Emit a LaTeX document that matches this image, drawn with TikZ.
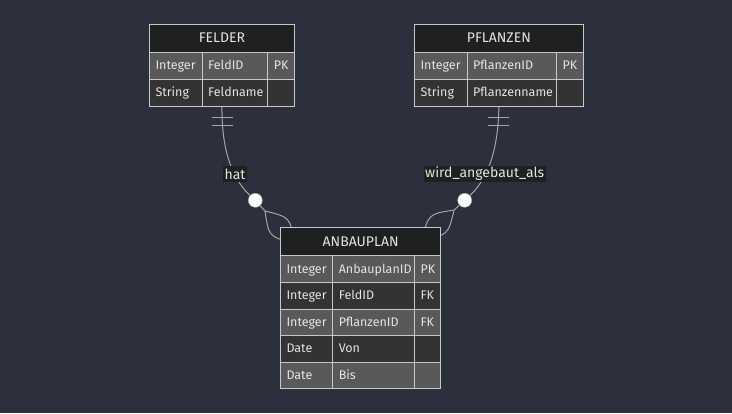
\documentclass[tikz,border=0pt]{standalone}
\usepackage{fontspec}
\setmainfont{Fira Sans}
\usepackage{tikz}
\usetikzlibrary{positioning, fit, backgrounds}

\definecolor{bgblue}{RGB}{43,48,60}
\definecolor{headfill}{RGB}{31,32,32}
\definecolor{rowlight}{RGB}{89,89,89}
\definecolor{rowdark}{RGB}{51,51,51}
\definecolor{cellline}{RGB}{200,200,200}
\definecolor{celltext}{RGB}{228,228,228}
\definecolor{linkgray}{RGB}{165,165,165}

\begin{document}
\begin{tikzpicture}[x=1pt,y=-1pt,
        head/.style={draw=cellline,line width=1pt,fill=headfill,text=celltext,anchor=north west,inner sep=0pt,minimum height=27.7pt,text height=12pt,text depth=3pt,font=\fontsize{14}{16}\selectfont},
        cell/.style={draw=cellline,line width=1pt,text=celltext,anchor=north west,inner xsep=6pt,inner ysep=0pt,minimum height=27pt,text height=11pt,text depth=3pt,align=left,font=\fontsize{12.5}{14}\selectfont},
        oddrow/.style={cell,fill=rowlight},
        evenrow/.style={cell,fill=rowdark},
        link/.style={draw=linkgray,line width=1pt},
        dot/.style={circle,draw=linkgray,fill=white,inner sep=0pt,minimum size=14pt},
        rel/.style={fill=headfill,text=celltext,inner xsep=1.5pt,inner ysep=1pt,minimum height=16pt,font=\fontsize{14}{16}\selectfont}]

        \useasboundingbox (0,0) rectangle (732,413);

        % FELDER
        \node[head, minimum width=145pt] (fh) at (149,24) {FELDER};
        \node[oddrow, text width=40.7pt] (f11) at (149,51.7) {Integer};
        \node[oddrow, text width=53.6pt] (f12) at (201.7,51.7) {FeldID};
        \node[oddrow, text width=14.7pt] (f13) at (267.3,51.7) {PK};
        \node[evenrow, text width=40.7pt] (f21) at (149,78.7) {String};
        \node[evenrow, text width=53.6pt] (f22) at (201.7,78.7) {Feldname};
        \node[evenrow, text width=14.7pt] (f23) at (267.3,78.7) {};
        \node[fit=(fh)(f21)(f23), inner sep=0pt] (felder) {};

        % PFLANZEN
        \node[head, minimum width=168.7pt] (ph) at (414,24) {PFLANZEN};
        \node[oddrow, text width=40.7pt] (p11) at (414,51.7) {Integer};
        \node[oddrow, text width=77.3pt] (p12) at (466.7,51.7) {PflanzenID};
        \node[oddrow, text width=14.7pt] (p13) at (556,51.7) {PK};
        \node[evenrow, text width=40.7pt] (p21) at (414,78.7) {String};
        \node[evenrow, text width=77.3pt] (p22) at (466.7,78.7) {Pflanzenname};
        \node[evenrow, text width=14.7pt] (p23) at (556,78.7) {};
        \node[fit=(ph)(p21)(p23), inner sep=0pt] (pflanzen) {};

        % ANBAUPLAN
        \node[head, minimum width=160.3pt, minimum height=28.6pt] (ah) at (280,226.7) {ANBAUPLAN};
        \node[oddrow, text width=40.3pt, minimum height=26.6pt] (a11) at (280,255.3) {Integer};
        \node[oddrow, text width=69.7pt, minimum height=26.6pt] (a12) at (332.3,255.3) {AnbauplanID};
        \node[oddrow, text width=14.3pt, minimum height=26.6pt] (a13) at (414,255.3) {PK};
        \node[evenrow, text width=40.3pt, minimum height=26.6pt] (a21) at (280,281.9) {Integer};
        \node[evenrow, text width=69.7pt, minimum height=26.6pt] (a22) at (332.3,281.9) {FeldID};
        \node[evenrow, text width=14.3pt, minimum height=26.6pt] (a23) at (414,281.9) {FK};
        \node[oddrow, text width=40.3pt, minimum height=26.6pt] (a31) at (280,308.5) {Integer};
        \node[oddrow, text width=69.7pt, minimum height=26.6pt] (a32) at (332.3,308.5) {PflanzenID};
        \node[oddrow, text width=14.3pt, minimum height=26.6pt] (a33) at (414,308.5) {FK};
        \node[evenrow, text width=40.3pt, minimum height=26.6pt] (a41) at (280,335.1) {Date};
        \node[evenrow, text width=69.7pt, minimum height=26.6pt] (a42) at (332.3,335.1) {Von};
        \node[evenrow, text width=14.3pt, minimum height=26.6pt] (a43) at (414,335.1) {};
        \node[oddrow, text width=40.3pt, minimum height=26.6pt] (a51) at (280,361.7) {Date};
        \node[oddrow, text width=69.7pt, minimum height=26.6pt] (a52) at (332.3,361.7) {Bis};
        \node[oddrow, text width=14.3pt, minimum height=26.6pt] (a53) at (414,361.7) {};

        % relationship marks
        \node[dot] (d1) at (255.3,200.3) {};
        \node[dot] (d2) at (464.7,200.3) {};
        \node[rel] (hat) at (235,174) {hat};
        \node[rel] (wird) at (484.7,173.7) {wird\_angebaut\_als};

        \coordinate (c1) at (265,211);
        \coordinate (t1) at (294,243);
        \coordinate (c2) at (454.1,210);
        \coordinate (t2) at (422.2,239.2);

        \begin{scope}[on background layer]
            \fill[bgblue] (0,0) rectangle (732,413);

            % FELDER -- ANBAUPLAN
            \draw[link] (felder.south) .. controls (221.5,145) and (230,177) .. (d1);
            \path[link] (d1) edge (c1);
            \draw[link] (c1) .. controls (290.2,217.3) .. (t1) .. controls (268.8,236.7) .. (c1);
            \draw[link] ([shift={(-10.5,10.3)}]felder.south) -- ++(21,0);
            \draw[link] ([shift={(-10.5,18.3)}]felder.south) -- ++(21,0);

            % PFLANZEN -- ANBAUPLAN
            \draw[link] (pflanzen.south) .. controls (498.3,145) and (490,177) .. (d2);
            \path[link] (d2) edge (c2);
            \draw[link] (c2) .. controls (428.5,214) .. (t2) .. controls (447.9,235.2) .. (c2);
            \draw[link] ([shift={(-10.5,10.3)}]pflanzen.south) -- ++(21,0);
            \draw[link] ([shift={(-10.5,18.3)}]pflanzen.south) -- ++(21,0);
        \end{scope}
\end{tikzpicture}
\end{document}
